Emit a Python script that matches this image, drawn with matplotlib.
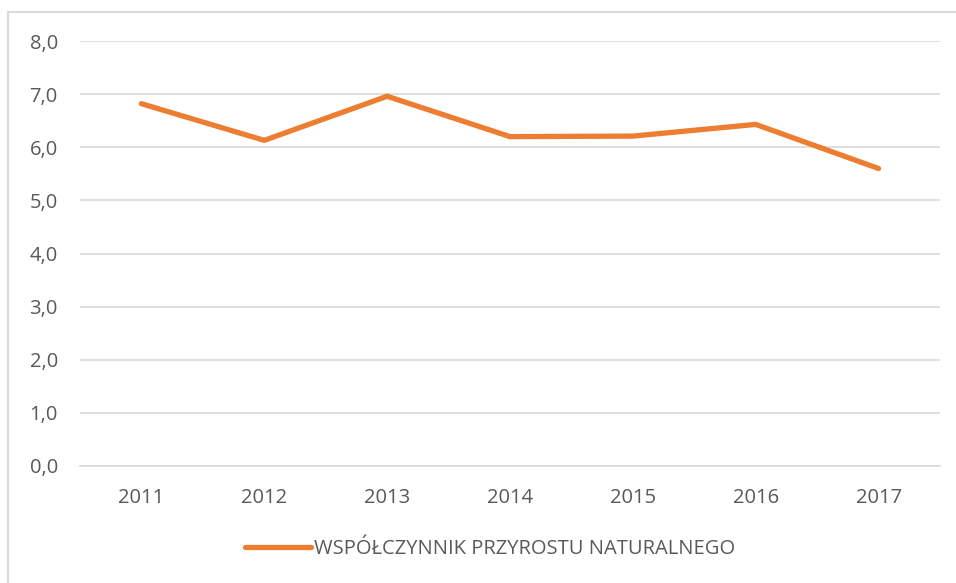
import matplotlib.pyplot as plt
import matplotlib.patches as patches
import numpy as np

years = ["2011", "2012", "2013", "2014", "2015", "2016", "2017"]
values = [6.82, 6.13, 6.96, 6.2, 6.21, 6.43, 5.6]
y_ticks = [0, 1, 2, 3, 4, 5, 6, 7, 8]
series_name = "WSPÓŁCZYNNIK PRZYROSTU NATURALNEGO"

plt.rcParams['font.family'] = ['Open Sans', 'DejaVu Sans']

W, H = 956, 583
fig = plt.figure(figsize=(W / 100, H / 100), dpi=100)
ax = fig.add_axes([80 / W, 1 - 466 / H, 860 / W, (466 - 41) / H])

x = np.arange(len(years))
ax.plot(x, values, color='#ED7D31', lw=3.8, solid_capstyle='round', solid_joinstyle='round',
        label=series_name, zorder=3)

ax.set_xlim(-0.5, len(years) - 0.5)
ax.set_ylim(0, 8)
ax.set_yticks(y_ticks)
ax.set_yticklabels([f"{v:.1f}".replace('.', ',') for v in y_ticks])
ax.set_xticks(x)
ax.set_xticklabels(years)
ax.grid(axis='y', color='#D9D9D9', lw=1.2)
ax.set_axisbelow(True)
for s in ax.spines.values():
    s.set_visible(False)
ax.spines['bottom'].set_visible(True)
ax.spines['bottom'].set_color('#D9D9D9')
ax.spines['bottom'].set_linewidth(1.2)
ax.tick_params(length=0, labelsize=14.5, colors='#595959')
ax.tick_params(axis='y', pad=16)
ax.tick_params(axis='x', pad=16)

leg = fig.legend(loc='center', bbox_to_anchor=(490 / W, 1 - 549 / H), frameon=False,
                 fontsize=14.5, handlelength=3.3, handletextpad=0.15)
for t in leg.get_texts():
    t.set_color('#595959')

# chart frame
fig.patches.append(patches.Rectangle((8 / W, -0.05), 1.1, 1 - 12 / H + 0.05,
                                     transform=fig.transFigure, fill=False,
                                     edgecolor='#D9D9D9', lw=1.5))

fig.savefig("out.png", dpi=100)
